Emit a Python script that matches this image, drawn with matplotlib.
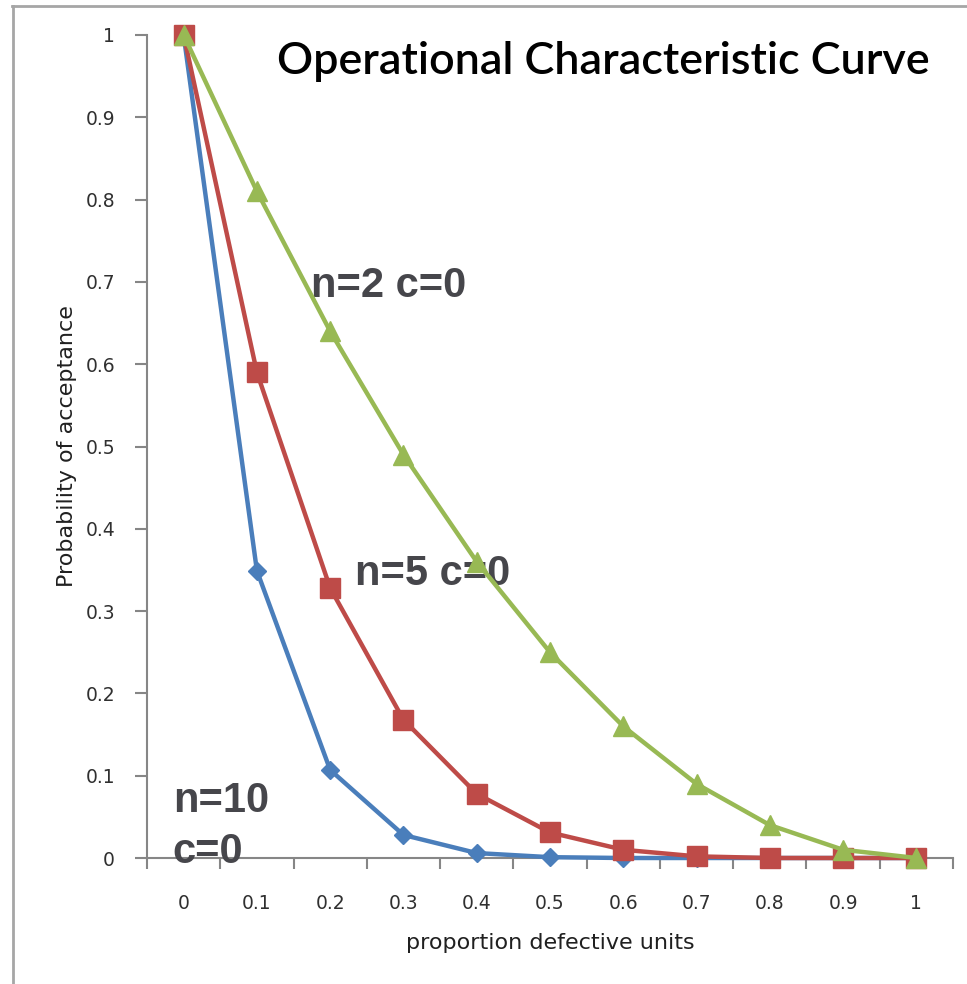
import matplotlib.pyplot as plt
from matplotlib.lines import Line2D

# OC curves
p = ["0", "0.1", "0.2", "0.3", "0.4", "0.5", "0.6", "0.7", "0.8", "0.9", "1"]
n10 = [1.0, 0.349, 0.107, 0.028, 0.006, 0.001, 0.0, 0.0, 0.0, 0.0, 0.0]
n5 = [1.0, 0.59, 0.328, 0.168, 0.078, 0.031, 0.01, 0.002, 0.0, 0.0, 0.0]
n2 = [1.0, 0.81, 0.64, 0.49, 0.36, 0.25, 0.16, 0.09, 0.04, 0.01, 0.0]
yticks = [0, 0.1, 0.2, 0.3, 0.4, 0.5, 0.6, 0.7, 0.8, 0.9, 1]

fig = plt.figure(figsize=(9.67, 9.84), dpi=100)
ax = fig.add_axes([147 / 967, 1 - 858 / 984, 806 / 967, 823 / 984])

x = list(range(len(p)))
ax.plot(x, n10, color="#4A7EBB", lw=3.2, marker="D", ms=9, clip_on=False, zorder=3)
ax.plot(x, n5, color="#BE4B48", lw=3.2, marker="s", ms=14, clip_on=False, zorder=4)
ax.plot(x, n2, color="#98B954", lw=3.2, marker="^", ms=14, clip_on=False, zorder=5)

ax.set_xlim(-0.5, 10.5)
ax.set_ylim(0, 1)
for s in ["top", "right"]:
    ax.spines[s].set_visible(False)
for s in ["left", "bottom"]:
    ax.spines[s].set_color("#868686")
    ax.spines[s].set_linewidth(1.5)

ax.set_yticks(yticks)
ax.set_yticklabels([f"{v:g}" for v in yticks])
ax.set_xticks(x)
ax.set_xticklabels(p)
ax.set_xticks([i - 0.5 for i in range(12)], minor=True)
ax.tick_params(axis="x", which="major", length=0, pad=26, labelsize=13.5, labelcolor="#303030")
ax.tick_params(axis="x", which="minor", length=8, width=1.5, color="#868686", direction="out")
ax.tick_params(axis="y", length=9, width=1.5, color="#868686", pad=14, labelsize=13.5,
               labelcolor="#303030")

ax.set_ylabel("Probability of acceptance", fontsize=16, color="#202020", labelpad=6)
ax.set_xlabel("proportion defective units", fontsize=16, color="#202020", labelpad=14)

ann = dict(fontfamily="Liberation Sans", fontweight="bold", fontsize=30, color="#46464b")
ax.text(1.74, 0.682, "n=2 c=0", ha="left", va="baseline", **ann)
ax.text(2.34, 0.332, "n=5 c=0", ha="left", va="baseline", **ann)
ax.text(-0.15, 0.056, "n=10", ha="left", va="baseline", zorder=6, **ann)
ax.text(-0.15, -0.006, "c=0", ha="left", va="baseline", zorder=6, **ann)

fig.text(603 / 967, 1 - 62 / 984, "Operational Characteristic Curve", ha="center",
         va="center", fontfamily="Lato", fontweight="semibold", fontsize=32.3, color="#000000")

# chart frame (only top and left edges visible in the crop)
fig.add_artist(Line2D([12 / 967, 1], [1 - 6 / 984, 1 - 6 / 984], color="#a6a6a6", lw=2))
fig.add_artist(Line2D([13 / 967, 13 / 967], [0, 1 - 6 / 984], color="#a6a6a6", lw=2))

fig.savefig("out.png", dpi=100)
